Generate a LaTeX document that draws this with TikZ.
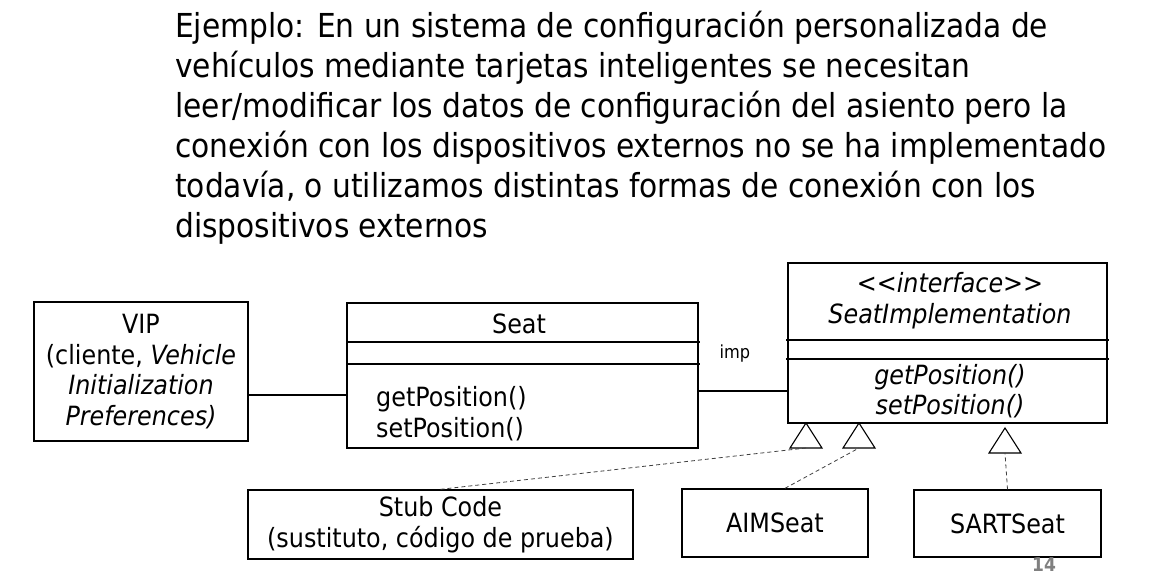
\documentclass[tikz,border=0pt]{standalone}
\usepackage{fontspec}
\setmainfont{DejaVu Sans Condensed}
\usepackage{xcolor}
\usepackage{tikz}

\begin{document}
\begin{tikzpicture}[x=1pt, y=-1pt,
    box/.style={draw, line width=1.4pt, inner sep=0pt, align=center},
    txt/.style={inner sep=0pt, align=center, font=\fontsize{26.5}{30.5}\selectfont},
    realize/.style={line width=0.8pt, black!75, dash pattern=on 4pt off 3pt},
    tri/.style={draw, line width=1.1pt, fill=white}]
    \useasboundingbox (0,0) rectangle (1163,582);
    % enunciado
    \node[anchor=north west, inner sep=0pt, align=left,
          font=\fontsize{33}{40}\selectfont] (title) at (175,11)
        {Ejemplo: En un sistema de configuración personalizada de\\
         vehículos mediante tarjetas inteligentes se necesitan\\
         leer/modificar los datos de configuración del asiento pero la\\
         conexión con los dispositivos externos no se ha implementado\\
         todavía, o utilizamos distintas formas de conexión con los\\
         dispositivos externos};
    % clases
    \node[box, minimum width=214pt, minimum height=139pt] (vip) at (141,371.5) {};
    \node[txt] (viptxt) at (vip.center)
        {VIP\\(cliente, \textit{Vehicle}\\\textit{Initialization}\\\textit{Preferences)}};
    \node[box, minimum width=351pt, minimum height=145pt] (seat) at (522.5,375.5) {};
    \draw[line width=1.4pt] (seat.west |- 0,342) -- (700,342);
    \draw[line width=1.4pt] (seat.west |- 0,364) -- (700,364);
    \node[txt] (seatname) at (519,324) {Seat};
    \node[txt, anchor=west, align=left] (seatops) at (376,413.5) {getPosition()\\setPosition()};
    \node[box, minimum width=319pt, minimum height=160pt] (impl) at (947.5,343) {};
    \draw[line width=1.4pt] (786,340) -- (1109,340);
    \draw[line width=1.4pt] (786,359) -- (1109,359);
    \node[txt, font=\fontsize{26.5}{31}\selectfont\itshape] (implname) at (950,300.5)
        {<{}<interface>{}>\\SeatImplementation};
    \node[txt, font=\fontsize{26.5}{30}\selectfont\itshape] (implops) at (950,391)
        {getPosition()\\setPosition()};
    \node[box, minimum width=385pt, minimum height=69pt] (stub) at (440.5,524.5) {};
    \node[txt] (stubtxt) at (stub.center) {Stub Code\\(sustituto, código de prueba)};
    \node[box, minimum width=186pt, minimum height=68pt, txt] (aim) at (775,523) {AIMSeat};
    \node[box, minimum width=187pt, minimum height=67pt, txt] (sart) at (1007.5,523.5) {SARTSeat};
    % asociaciones
    \draw[line width=1.4pt] (vip.east |- 0,395) -- (seat.west |- 0,395);
    \draw[line width=1.4pt] (seat.east |- 0,391) -- (impl.west |- 0,391);
    \node[inner sep=0pt, font=\fontsize{18}{20}\selectfont] (imp) at (735,354) {imp};
    % realizaciones
    \foreach \ax/\ay/\nm in {806/423/t1, 859/423/t2, 1005/428/t3} {
        \draw[tri] (\ax,\ay) -- (\ax-16,\ay+25) -- (\ax+16,\ay+25) -- cycle;
        \coordinate (\nm) at (\ax,\ay+25);
    }
    \draw[realize] (stub.north) -- (t1);
    \draw[realize] ([xshift=10pt]aim.north) -- (t2);
    \draw[realize] (sart.north) -- (t3);
    \node[inner sep=0pt, text=gray, font=\fontsize{19}{20}\selectfont\bfseries] (pg) at (1044,565) {14};
\end{tikzpicture}
\end{document}
